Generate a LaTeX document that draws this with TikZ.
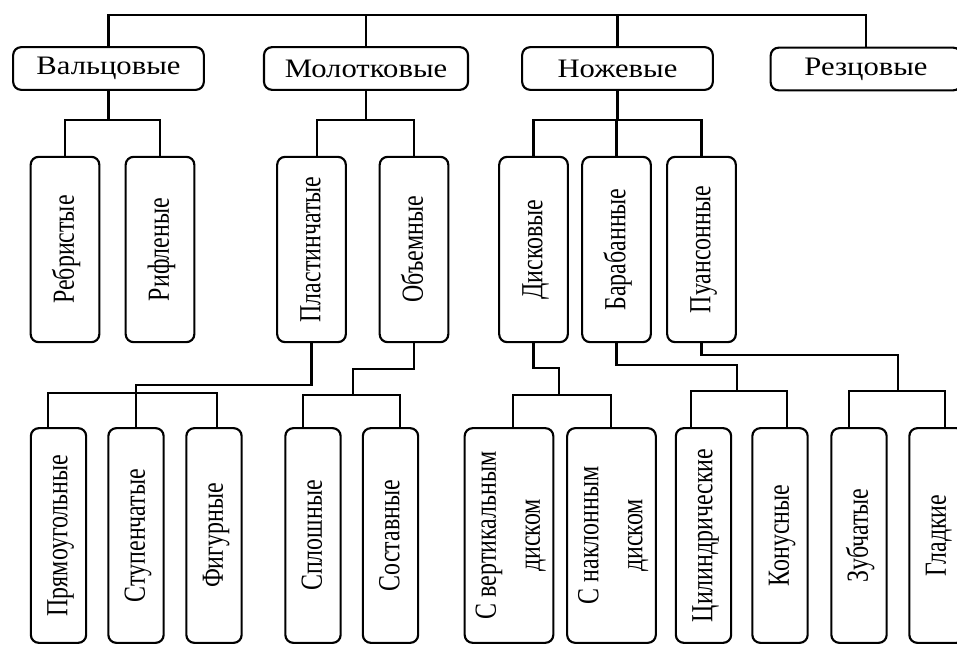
\documentclass[tikz,border=0pt]{standalone}
\usepackage{fontspec}
\setmainfont{Liberation Serif}
\newcommand{\hlabel}[1]{\scalebox{1.15}[1]{#1}}
\newcommand{\vlabel}[1]{\rotatebox{90}{\scalebox{0.78}[1]{\begin{tabular}{@{}c@{}}#1\end{tabular}}}}

\tikzset{
  box/.style={draw, line width=1.6pt, rounded corners=6pt, inner sep=0pt},
  topbox/.style={box, minimum width=143pt, minimum height=32pt, font={\fontsize{20}{24}\selectfont}},
  midbox/.style={box, minimum width=51.5pt, minimum height=139pt, font={\fontsize{23}{33}\selectfont}},
  lowbox/.style={midbox, minimum width=41.5pt, minimum height=161pt},
  widebox/.style={lowbox, minimum width=66.5pt},
  wire/.style={line width=1.6pt}
}

\begin{document}
\begin{tikzpicture}[x=0.75pt, y=-0.75pt]
\useasboundingbox (0,0) rectangle (957,645);
\clip (0,0) rectangle (957,645);

% first level
\node[topbox] (val) at (108.5,68.5) {\hlabel{Вальцовые}};
\node[topbox, minimum width=153pt] (mol) at (366,68.5) {\hlabel{Молотковые}};
\node[topbox] (nozh) at (617.5,68.5) {\hlabel{Ножевые}};
\node[topbox] (rez) at (866,69) {\hlabel{Резцовые}};

% second level
\node[midbox] (reb) at (65,249.5) {\vlabel{Ребристые}};
\node[midbox] (rif) at (160,249.5) {\vlabel{Рифленые}};
\node[midbox] (plast) at (311.5,249.5) {\vlabel{Пластинчатые}};
\node[midbox] (obyem) at (414,249.5) {\vlabel{Объемные}};
\node[midbox] (disk) at (533.5,249.5) {\vlabel{Дисковые}};
\node[midbox] (barab) at (616.5,249.5) {\vlabel{Барабанные}};
\node[midbox] (puans) at (701.5,249.5) {\vlabel{Пуансонные}};

% third level
\node[lowbox] (pryam) at (58.5,535.5) {\vlabel{Прямоугольные}};
\node[lowbox] (stup) at (136,535.5) {\vlabel{Ступенчатые}};
\node[lowbox] (fig) at (214,535.5) {\vlabel{Фигурные}};
\node[lowbox] (splosh) at (313,535.5) {\vlabel{Сплошные}};
\node[lowbox] (sostav) at (390.5,535.5) {\vlabel{Составные}};
\node[widebox] (svert) at (509,535.5) {\vlabel{С вертикальным\\диском}};
\node[widebox] (snakl) at (611.5,535.5) {\vlabel{С наклонным\\диском}};
\node[lowbox] (cilin) at (703.5,535.5) {\vlabel{Цилиндрические}};
\node[lowbox] (konus) at (780,535.5) {\vlabel{Конусные}};
\node[lowbox] (zub) at (859,535.5) {\vlabel{Зубчатые}};
\node[lowbox] (glad) at (937,535.5) {\vlabel{Гладкие}};

% top bus
\coordinate (r0) at (0,15);
\coordinate (r1) at (0,120);
\draw[wire] (val.north) |- (r0 -| rez.north) -- (rez.north);
\foreach \n in {mol,nozh} \draw[wire] (\n.north) -- (\n.north |- r0);

% to second level
\foreach \n in {val,mol,nozh} \draw[wire] (\n.south) -- (\n.south |- r1);
\draw[wire] (reb.north) |- (r1 -| rif.north) -- (rif.north);
\draw[wire] ([xshift=4pt]plast.north) |- (r1 -| obyem.north) -- (obyem.north);
\draw[wire] (disk.north) |- (r1 -| puans.north) -- (puans.north);
\draw[wire] (barab.north) -- (barab.north |- r1);

% plast
\coordinate (plK) at (0,385);
\coordinate (plL) at (48,393);
\coordinate (plR) at (217,393);
\draw[wire] (plast.south) |- (plK -| stup.north) -- (stup.north);
\draw[wire] (pryam.north -| plL) |- (plR) -- (plR |- fig.north);

% obyem
\coordinate (obK) at (353,369);
\coordinate (obL) at (303,395);
\coordinate (obR) at (400,395);
\draw[wire] (obyem.south) |- (obK) -- (obK |- obL);
\draw[wire] (splosh.north -| obL) |- (obR) -- (obR |- sostav.north);

% disk
\coordinate (dkK) at (559,368);
\coordinate (dkL) at (513,395);
\coordinate (dkR) at (611,395);
\draw[wire] (disk.south) |- (dkK) -- (dkK |- dkL);
\draw[wire] (svert.north -| dkL) |- (dkR) -- (dkR |- snakl.north);

% barab
\coordinate (brK) at (737,365);
\coordinate (brL) at (691,391);
\coordinate (brR) at (787,391);
\draw[wire] (barab.south) |- (brK) -- (brK |- brL);
\draw[wire] (cilin.north -| brL) |- (brR) -- (brR |- konus.north);

% puans
\coordinate (puK) at (898,355);
\coordinate (puL) at (849,391);
\coordinate (puR) at (945,391);
\draw[wire] (puans.south) |- (puK) -- (puK |- puL);
\draw[wire] (zub.north -| puL) |- (puR) -- (puR |- glad.north);
\end{tikzpicture}
\end{document}
